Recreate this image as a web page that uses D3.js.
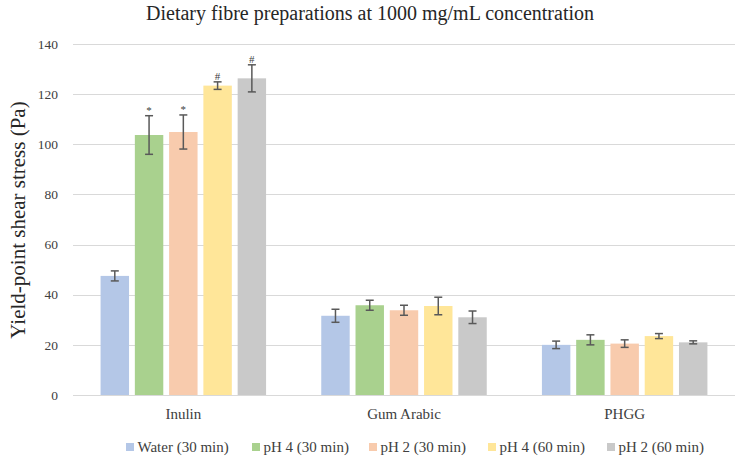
<!DOCTYPE html>
<html><head><meta charset="utf-8">
<script src="https://cdn.jsdelivr.net/npm/d3@7"></script>
<style>body{margin:0;background:#fff}</style>
</head><body><svg id="c" width="746" height="459"></svg>
<script>
const categories = ["Inulin", "Gum Arabic", "PHGG"];
const seriesNames = ["Water (30 min)", "pH 4 (30 min)", "pH 2 (30 min)", "pH 4 (60 min)", "pH 2 (60 min)"];
const colors = ["#b4c7e7", "#a9d18e", "#f8cbad", "#ffe699", "#c9c9c9"];
const values = [
  [47.5, 103.7, 104.9, 123.4, 126.3],
  [31.6, 35.8, 33.8, 35.5, 31.0],
  [20.0, 22.0, 20.5, 23.5, 21.0]
];
const errors = [
  [2.0, 7.7, 6.8, 1.5, 5.4],
  [2.6, 2.0, 2.0, 3.5, 2.5],
  [1.5, 2.0, 1.5, 1.0, 0.6]
];
const markers = [
  ["", "*", "*", "#", "#"],
  ["", "", "", "", ""],
  ["", "", "", "", ""]
];
const yTicks = [0, 20, 40, 60, 80, 100, 120, 140];

(function(){
const font = "'Liberation Serif', 'DejaVu Serif', serif";
const svg = d3.select("#c");
const pl = 73, pr = 735, pt = 44, pb = 395;

const y = d3.scaleLinear().domain([0, 140]).range([pb, pt]);
const x0 = d3.scaleBand().domain(categories).range([pl, pr]).paddingInner(0.25).paddingOuter(0.125);
const x1 = d3.scaleBand().domain(d3.range(5)).range([0, x0.bandwidth()]).paddingInner(0.17);

svg.append("g").selectAll("line").data(yTicks).join("line")
  .attr("x1", pl).attr("x2", pr)
  .attr("y1", d => Math.round(y(d)) + 0.5).attr("y2", d => Math.round(y(d)) + 0.5)
  .attr("stroke", "#d9d9d9").attr("stroke-width", 1);

svg.append("g").selectAll("text").data(yTicks).join("text")
  .attr("x", 58).attr("y", d => y(d)).attr("dy", "0.35em")
  .attr("text-anchor", "end").attr("font-family", font).attr("font-size", 13.5).attr("fill", "#404040")
  .text(d => d);

const groups = svg.append("g").selectAll("g").data(categories).join("g")
  .attr("transform", d => `translate(${x0(d)},0)`);

groups.each(function(cat, ci) {
  const g = d3.select(this);
  values[ci].forEach((v, si) => {
    const bx = x1(si), bw = x1.bandwidth();
    g.append("rect").attr("x", bx).attr("y", y(v)).attr("width", bw).attr("height", y(0) - y(v))
      .attr("fill", colors[si]);
    const e = errors[ci][si];
    const cx = bx + bw / 2;
    const eg = g.append("g").attr("stroke", "#595959").attr("stroke-width", 1.5);
    eg.append("line").attr("x1", cx).attr("x2", cx).attr("y1", y(v + e)).attr("y2", y(v - e));
    eg.append("line").attr("x1", cx - 4).attr("x2", cx + 4).attr("y1", y(v + e)).attr("y2", y(v + e));
    eg.append("line").attr("x1", cx - 4).attr("x2", cx + 4).attr("y1", y(v - e)).attr("y2", y(v - e));
    const m = markers[ci][si];
    if (m) {
      g.append("text").attr("x", cx).attr("y", y(v + e) - 2).attr("text-anchor", "middle")
        .attr("font-family", font).attr("font-size", 11).attr("fill", "#404040").text(m);
    }
  });
});

svg.append("g").selectAll("text").data(categories).join("text")
  .attr("x", d => x0(d) + x0.bandwidth() / 2).attr("y", 419)
  .attr("text-anchor", "middle").attr("font-family", font).attr("font-size", 15).attr("fill", "#404040")
  .text(d => d);

svg.append("text").attr("x", 370).attr("y", 20).attr("text-anchor", "middle")
  .attr("font-family", font).attr("font-size", 20).attr("fill", "#262626")
  .text("Dietary fibre preparations at 1000 mg/mL concentration");

svg.append("text").attr("transform", "translate(25,220) rotate(-90)").attr("text-anchor", "middle")
  .attr("font-family", font).attr("font-size", 21).attr("fill", "#262626")
  .text("Yield-point shear stress (Pa)");

const legendX = [126, 252, 369, 488, 607];
const lg = svg.append("g").selectAll("g").data(seriesNames).join("g")
  .attr("transform", (d, i) => `translate(${legendX[i]},447)`);
lg.append("rect").attr("x", 0).attr("y", -4).attr("width", 8).attr("height", 8).attr("fill", (d, i) => colors[i]);
lg.append("text").attr("x", 11.5).attr("y", 0).attr("dy", "0.35em")
  .attr("font-family", font).attr("font-size", 15).attr("fill", "#404040").text(d => d);
})();
</script></body></html>
